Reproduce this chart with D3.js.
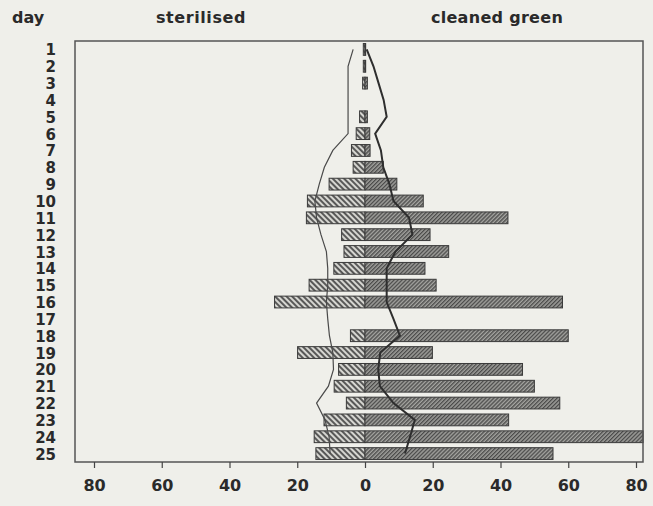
<!DOCTYPE html>
<html>
<head>
<meta charset="utf-8">
<script src="https://cdn.jsdelivr.net/npm/d3@7"></script>
<style>
  html, body { margin: 0; padding: 0; background: #efefea; }
  svg { display: block; }
  text { font-family: "DejaVu Sans", sans-serif; font-weight: bold; fill: #2a2a2a; }
</style>
</head>
<body>
<svg id="chart" width="653" height="506"></svg>
<script>
// Days of observation
const days = d3.range(1, 26);

// Bar lengths per day (left: sterilised, right: cleaned green)
const sterilised   = [0.5, 0.5, 0.7, 0, 1.6, 2.6, 4, 3.5, 10.6, 17, 17.3, 6.9, 6.2, 9.2, 16.5, 26.7, 0, 4.3, 19.9, 7.8, 9.1, 5.5, 12.1, 15, 14.5];
const cleanedGreen = [0.2, 0.2, 0.7, 0, 0.7, 1.4, 1.5, 5.4, 9.4, 17.2, 42.2, 19.2, 24.7, 17.7, 21, 58.3, 0, 60, 19.9, 46.5, 50, 57.5, 42.4, 82.1, 55.5];

// Running curves drawn over the bars
const sterilisedLine   = [3.5, 5, 5, 5, 5, 5, 9.5, 12, 13.5, 14.8, 14.3, 13, 11.4, 11, 11, 11.4, 11, 10.5, 9.5, 9.3, 10.8, 14.3, 11.8, 10.6, 10.3];
const cleanedGreenLine = [0.5, 2.5, 4, 5.5, 6.4, 3, 4.7, 5.4, 7.2, 8.4, 13, 14, 9, 6.4, 6.4, 6.4, 8.4, 10.3, 4.5, 3.9, 4.4, 8.4, 14.7, 13.3, 11.8];

// Axis ticks (both sides labelled with magnitudes)
const xTicks = [-80, -60, -40, -20, 0, 20, 40, 60, 80];

const svg = d3.select("#chart");

const frame = { left: 75, right: 643, top: 41, bottom: 462 };

const x = d3.scaleLinear().domain([-80, 80]).range([94, 636]);
const y = d3.scaleBand().domain(days).range([frame.top, frame.bottom])
  .paddingInner(0.3).paddingOuter(0.15);

// Hatch fills
const defs = svg.append("defs");
const leftPat = defs.append("pattern")
  .attr("id", "hatchLeft").attr("patternUnits", "userSpaceOnUse")
  .attr("width", 4).attr("height", 4)
  .attr("patternTransform", "rotate(-45)");
leftPat.append("rect").attr("width", 4).attr("height", 4).attr("fill", "#d6d6d1");
leftPat.append("line").attr("x1", 1).attr("y1", 0).attr("x2", 1).attr("y2", 4)
  .attr("stroke", "#4a4a4a").attr("stroke-width", 1.8);

const rightPat = defs.append("pattern")
  .attr("id", "hatchRight").attr("patternUnits", "userSpaceOnUse")
  .attr("width", 2.8).attr("height", 2.8)
  .attr("patternTransform", "rotate(45)");
rightPat.append("rect").attr("width", 2.8).attr("height", 2.8).attr("fill", "#a3a39f");
rightPat.append("line").attr("x1", 0.7).attr("y1", 0).attr("x2", 0.7).attr("y2", 2.8)
  .attr("stroke", "#404040").attr("stroke-width", 1.2);

// Bars
const rows = days.map((d, i) => ({ day: d, left: sterilised[i], right: cleanedGreen[i] }));

svg.append("g").selectAll("rect").data(rows.filter(r => r.left > 0)).join("rect")
  .attr("x", r => x(-r.left)).attr("width", r => x(0) - x(-r.left))
  .attr("y", r => y(r.day)).attr("height", y.bandwidth())
  .attr("fill", "url(#hatchLeft)").attr("stroke", "#3a3a3a").attr("stroke-width", 1);

svg.append("g").selectAll("rect").data(rows.filter(r => r.right > 0)).join("rect")
  .attr("x", x(0)).attr("width", r => x(r.right) - x(0))
  .attr("y", r => y(r.day)).attr("height", y.bandwidth())
  .attr("fill", "url(#hatchRight)").attr("stroke", "#3a3a3a").attr("stroke-width", 1);

// Curves
const yc = d => y(d) + y.bandwidth() / 2;
const thin = d3.line().x((v, i) => x(-v)).y((v, i) => yc(days[i]));
const thick = d3.line().x((v, i) => x(v)).y((v, i) => yc(days[i]));

svg.append("path").datum(sterilisedLine).attr("d", thin)
  .attr("fill", "none").attr("stroke", "#4a4a4a").attr("stroke-width", 1.2);
svg.append("path").datum(cleanedGreenLine).attr("d", thick)
  .attr("fill", "none").attr("stroke", "#2e2e2e").attr("stroke-width", 2);

// Frame
svg.append("rect")
  .attr("x", frame.left).attr("y", frame.top)
  .attr("width", frame.right - frame.left).attr("height", frame.bottom - frame.top)
  .attr("fill", "none").attr("stroke", "#555").attr("stroke-width", 1.5);

// Bottom axis
const xAxis = svg.append("g")
  .attr("transform", `translate(0,${frame.bottom})`)
  .call(d3.axisBottom(x).tickValues(xTicks).tickFormat(d => Math.abs(d))
    .tickSize(6).tickPadding(12));
xAxis.select(".domain").remove();
xAxis.selectAll(".tick line").attr("stroke", "#444").attr("stroke-width", 1.2);
xAxis.selectAll(".tick text")
  .attr("font-family", "DejaVu Sans").attr("font-weight", "bold")
  .attr("font-size", 16).attr("fill", "#2a2a2a");

// Day labels
svg.append("g").selectAll("text").data(days).join("text")
  .attr("x", 56).attr("y", d => yc(d) + 1)
  .attr("text-anchor", "end").attr("dominant-baseline", "central")
  .attr("font-size", 15)
  .text(d => d);

// Headers
svg.append("text").attr("x", 12).attr("y", 23).attr("font-size", 16).text("day");
svg.append("text").attr("x", 201).attr("y", 23).attr("text-anchor", "middle")
  .attr("font-size", 16).attr("letter-spacing", 0.6).text("sterilised");
svg.append("text").attr("x", 497).attr("y", 23).attr("text-anchor", "middle")
  .attr("font-size", 16).attr("letter-spacing", 0.3).text("cleaned green");
</script>
</body>
</html>
